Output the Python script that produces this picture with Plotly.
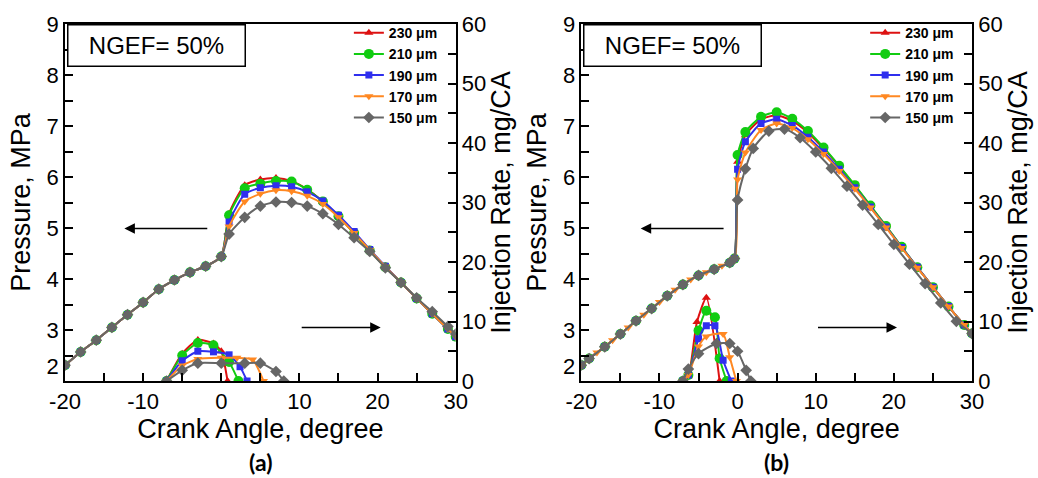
import plotly.graph_objects as go

# ---------------- data ----------------
SERIES = ["230 μm", "210 μm", "190 μm", "170 μm", "150 μm"]
COLORS = ["#DD1111", "#11CC11", "#2F2FEE", "#FF8822", "#666666"]
SYMBOLS = ["triangle-up", "circle", "square", "triangle-down", "diamond"]
MSIZES = [8, 10, 7, 8, 9]

# Panel (a): pressure, compression part (shared by all nozzles)
CA_COMP_A = [-20, -18, -16, -14, -12, -10, -8, -6, -4, -2, 0]
P_COMP_A = [2.31, 2.57, 2.80, 3.05, 3.30, 3.54, 3.80, 3.98, 4.13, 4.25, 4.44]
# Panel (a): pressure, combustion part
CA_COMB_A = [1, 3, 5, 7, 9, 11, 13, 15, 17, 19, 21, 23, 25, 27, 29, 30]
P_A_230 = [5.28, 5.84, 5.95, 5.98, 5.92, 5.76, 5.52, 5.23, 4.90, 4.56, 4.23, 3.93, 3.62, 3.32, 3.02, 2.87]
P_A_210 = [5.25, 5.78, 5.87, 5.92, 5.91, 5.75, 5.52, 5.23, 4.90, 4.56, 4.23, 3.93, 3.62, 3.32, 3.02, 2.87]
P_A_190 = [5.12, 5.66, 5.79, 5.83, 5.81, 5.71, 5.53, 5.25, 4.93, 4.58, 4.25, 3.93, 3.62, 3.32, 3.02, 2.87]
P_A_170 = [5.03, 5.52, 5.67, 5.74, 5.72, 5.63, 5.47, 5.21, 4.90, 4.57, 4.24, 3.93, 3.62, 3.32, 3.02, 2.87]
P_A_150 = [4.88, 5.21, 5.43, 5.51, 5.50, 5.43, 5.28, 5.07, 4.81, 4.54, 4.22, 3.93, 3.63, 3.36, 3.07, 2.92]

# Panel (a): injection rate (mg/CA)
CA_INJ_A_230 = [-7, -5, -3, -1, 0, 0.8]
R_A_230 = [0, 4.6, 6.9, 6.3, 5.0, 0]
CA_INJ_A_210 = [-7, -5, -3, -1, 1, 2.2]
R_A_210 = [0, 4.3, 6.4, 6.0, 3.2, 0]
CA_INJ_A_190 = [-7, -5, -3, -1, 1, 2.4, 3.3]
R_A_190 = [0, 3.4, 5.0, 4.9, 4.4, 2.4, 0]
CA_INJ_A_170 = [-7, -5, -3, 0, 2, 4, 5.4]
R_A_170 = [0, 2.6, 3.7, 3.9, 3.9, 3.6, 0]
CA_INJ_A_150 = [-7, -5, -3, 0, 3, 5, 7, 8]
R_A_150 = [0, 1.8, 3.0, 3.0, 3.0, 3.0, 1.6, 0]

# Panel (b): pressure, compression part
CA_COMP_B = [-20, -19, -17, -15, -13, -11, -9, -7, -5, -3, -1, -0.4]
P_COMP_B = [2.31, 2.44, 2.67, 2.92, 3.18, 3.42, 3.67, 3.89, 4.07, 4.19, 4.32, 4.40]
CA_COMP_B_170 = [-20, -18, -16, -14, -12, -10, -8, -6, -4, -2, -0.4]
P_COMP_B_170 = [2.31, 2.56, 2.80, 3.05, 3.30, 3.55, 3.79, 3.99, 4.13, 4.26, 4.40]
# Panel (b): pressure, combustion part
CA_COMB_B = [0, 1, 3, 5, 7, 9, 11, 13, 15, 17, 19, 21, 23, 25, 27, 29, 30]
CA_COMB_B_150 = [0, 1, 2, 4, 6, 8, 10, 12, 14, 16, 18, 20, 22, 24, 26, 28, 30]
P_B_230 = [6.30, 6.82, 7.13, 7.21, 7.10, 6.87, 6.56, 6.21, 5.83, 5.43, 5.03, 4.62, 4.23, 3.84, 3.46, 3.10, 2.93]
P_B_210 = [6.43, 6.88, 7.18, 7.27, 7.14, 6.90, 6.58, 6.22, 5.84, 5.44, 5.04, 4.63, 4.23, 3.84, 3.46, 3.10, 2.93]
P_B_190 = [6.15, 6.69, 7.05, 7.13, 7.01, 6.78, 6.49, 6.15, 5.79, 5.41, 5.02, 4.62, 4.23, 3.84, 3.46, 3.10, 2.93]
P_B_170 = [5.95, 6.48, 6.92, 7.05, 6.96, 6.74, 6.45, 6.12, 5.77, 5.40, 5.01, 4.61, 4.22, 3.84, 3.46, 3.10, 2.93]
P_B_150 = [5.55, 6.16, 6.56, 6.90, 6.94, 6.77, 6.49, 6.17, 5.82, 5.45, 5.07, 4.68, 4.29, 3.91, 3.53, 3.17, 2.93]

# Panel (b): injection rate (mg/CA)
CA_INJ_B_230 = [-7, -6.3, -5.2, -4, -2.3]
R_B_230 = [0, 0.8, 9.9, 14.0, 0]
CA_INJ_B_210 = [-7, -6.3, -5, -4, -2.9, -2.3, -1.4]
R_B_210 = [0, 1.0, 8.5, 11.8, 10.7, 3.8, 0]
CA_INJ_B_190 = [-7, -6.3, -5, -4, -2.9, -1.85, -0.8]
R_B_190 = [0, 1.0, 7.1, 9.3, 9.3, 3.5, 0]
CA_INJ_B_170 = [-7, -6.3, -5, -4, -1.85, -1.0, -0.16]
R_B_170 = [0, 1.0, 5.8, 7.5, 7.9, 4.0, 0]
CA_INJ_B_150 = [-7, -6.3, -5, -2.7, -1, 0, 1.1, 1.7]
R_B_150 = [0, 2.0, 4.6, 6.3, 6.3, 5.0, 1.8, 0]

X_TICKS = [-20, -10, 0, 10, 20, 30]
X_TICKTEXT = ["-20", "-10", "0", "10", "20", "30"]
P_TICKS = [2, 3, 4, 5, 6, 7, 8, 9]
P_TICKTEXT = ["2<br> ", "3", "4", "5", "6", "7", "8", "9"]
P_RANGE = [2, 9]
R_RANGE = [0, 60]
X_RANGE = [-20, 30]

# ---------------- figure ----------------
FONT = "Liberation Sans, Arial, sans-serif"
fig = go.Figure()

pa = [P_A_230, P_A_210, P_A_190, P_A_170, P_A_150]
inj_a = [(CA_INJ_A_230, R_A_230), (CA_INJ_A_210, R_A_210), (CA_INJ_A_190, R_A_190),
         (CA_INJ_A_170, R_A_170), (CA_INJ_A_150, R_A_150)]
pb = [P_B_230, P_B_210, P_B_190, P_B_170, P_B_150]
inj_b = [(CA_INJ_B_230, R_B_230), (CA_INJ_B_210, R_B_210), (CA_INJ_B_190, R_B_190),
         (CA_INJ_B_170, R_B_170), (CA_INJ_B_150, R_B_150)]

def style(i):
    return dict(
        mode="lines+markers",
        line=dict(color=COLORS[i], width=2, shape="spline", smoothing=0.6),
        marker=dict(symbol=SYMBOLS[i], size=MSIZES[i], color=COLORS[i], line=dict(width=0)),
    )

for i in range(5):
    # panel (a)
    fig.add_trace(go.Scatter(x=CA_COMP_A + CA_COMB_A, y=P_COMP_A + pa[i], name=SERIES[i],
                             xaxis="x", yaxis="y", legend="legend", **style(i)))
    fig.add_trace(go.Scatter(x=inj_a[i][0], y=inj_a[i][1], name=SERIES[i], showlegend=False,
                             xaxis="x", yaxis="y2", **style(i)))
    # panel (b)
    if i == 3:
        cx, cp = CA_COMP_B_170, P_COMP_B_170
    else:
        cx, cp = CA_COMP_B, P_COMP_B
    comb_x = CA_COMB_B_150 if i == 4 else CA_COMB_B
    fig.add_trace(go.Scatter(x=cx + comb_x, y=cp + pb[i], name=SERIES[i],
                             xaxis="x2", yaxis="y3", legend="legend2", **style(i)))
    fig.add_trace(go.Scatter(x=inj_b[i][0], y=inj_b[i][1], name=SERIES[i], showlegend=False,
                             xaxis="x2", yaxis="y4", **style(i)))

tickfont = dict(family=FONT, size=22, color="black")
titlefont = dict(family=FONT, size=27, color="black")
common = dict(showgrid=False, zeroline=False, showline=True, linecolor="black", linewidth=1.5,
              ticks="inside", ticklen=8, tickwidth=1.5, tickcolor="black", tickfont=tickfont)

def xax(domain, anchor):
    return dict(domain=domain, anchor=anchor, range=X_RANGE, tickvals=X_TICKS,
                ticktext=X_TICKTEXT, mirror=True,
                minor=dict(dtick=5, ticks="inside", ticklen=8, tickwidth=1.5, tickcolor="black"),
                title=dict(text="Crank Angle, degree", font=titlefont, standoff=0), **common)

def ypax(anchor):
    return dict(anchor=anchor, range=P_RANGE, tickvals=P_TICKS, ticktext=P_TICKTEXT,
                minor=dict(dtick=0.5, ticks="inside", ticklen=8, tickwidth=1.5, tickcolor="black"),
                title=dict(text="Pressure, MPa", font=titlefont, standoff=8), **common)

def yrax(anchor, over):
    return dict(anchor=anchor, overlaying=over, side="right", range=R_RANGE, dtick=10,
                minor=dict(dtick=5, ticks="inside", ticklen=8, tickwidth=1.5, tickcolor="black"),
                title=dict(text="Injection Rate, mg/CA", font=titlefont, standoff=4), **common)

L, R, T, B = 65, 56, 20, 97
W, H = 1038, 478
PW = W - L - R
PH = H - T - B

def px(xpix):
    return (xpix - L) / PW

def py(ypix):
    return (H - B - ypix) / PH

legend_style = dict(font=dict(family=FONT, size=14, color="black", weight="bold"),
                    bgcolor="rgba(0,0,0,0)", borderwidth=0, xanchor="left", yanchor="top",
                    tracegroupgap=0, itemwidth=30)

annotations = []
for xl, xr, xa, ya, lab in [(67, 263, "x", "y", "(a)"), (589, 784, "x2", "y3", "(b)")]:
    annotations.append(dict(text="NGEF= 50%", xref="paper", yref="paper", x=px(xl), y=1,
                            xanchor="left", yanchor="top", showarrow=False,
                            font=dict(family=FONT, size=24, color="black"),
                            bordercolor="black", borderwidth=1.5, borderpad=1,
                            bgcolor="white", width=174, height=38, align="center"))
    annotations.append(dict(text="<b>" + lab + "</b>", xref="paper", yref="paper", x=px(xr),
                            y=py(463), xanchor="center", yanchor="middle", showarrow=False,
                            font=dict(family="Lato, Open Sans, sans-serif", size=23, color="black")))
    # arrows: toward pressure axis (left) and toward injection rate axis (right)
    annotations.append(dict(text="", xref=xa, yref=ya, x=-12.4, y=4.99, axref=xa, ayref=ya,
                            ax=-1.6, ay=4.99, showarrow=True, arrowhead=2, arrowsize=1.4,
                            arrowwidth=1.5, arrowcolor="black"))
    annotations.append(dict(text="", xref=xa, yref=ya, x=20.4, y=3.05, axref=xa, ayref=ya,
                            ax=10.1, ay=3.05, showarrow=True, arrowhead=2, arrowsize=1.4,
                            arrowwidth=1.5, arrowcolor="black"))

fig.update_layout(
    width=W, height=H,
    margin=dict(l=L, r=R, t=T, b=B, pad=0),
    paper_bgcolor="white", plot_bgcolor="white",
    font=dict(family=FONT, color="black"),
    xaxis=xax([0, px(460)], "y"),
    yaxis=ypax("x"),
    yaxis2=yrax("x", "y"),
    xaxis2=xax([px(587), 1], "y3"),
    yaxis3=ypax("x2"),
    yaxis4=yrax("x2", "y3"),
    legend=dict(x=px(352), y=py(13), **legend_style),
    legend2=dict(x=px(874), y=py(13), **legend_style),
    annotations=annotations,
)

fig.write_html("out.html")
